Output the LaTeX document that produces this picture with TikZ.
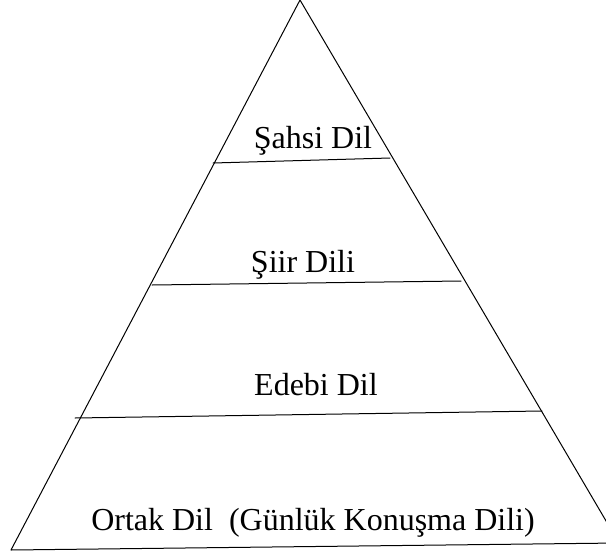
\documentclass[tikz,border=0pt]{standalone}
\usepackage{fontspec}
\setmainfont{Liberation Serif}
\usetikzlibrary{positioning}

\begin{document}
\begin{tikzpicture}[line cap=round,line join=round,x=1pt,y=-1pt, thick, lvl/.style={anchor=base, inner sep=0pt, font=\fontsize{32}{38}\selectfont}]
                    \useasboundingbox (0,0) rectangle (606,555);
                    \clip (0,0) rectangle (606,555);

                    \coordinate (top) at (300,0);
                    \coordinate (bl) at (11,550);
                    \coordinate (br) at (619,543);

                    \draw [line width=1pt] (bl) -- (top) -- (br) -- cycle;

                    \draw [line width=1pt] (213,163) -- (390,158);
                    \draw [line width=1pt] (152,285) -- (461,281);
                    \draw [line width=1pt] (75,418) -- (542,411);

                    \node [lvl] (sahsi) at (313,148) {Şahsi Dil};
                    \node [lvl] (siir) at (303,272) {Şiir Dili};
                    \node [lvl] (edebi) at (316,395) {Edebi Dil};
                    \node [lvl] (ortak) at (313,530) {Ortak Dil \ (Günlük Konuşma Dili)};
                \end{tikzpicture}
\end{document}
